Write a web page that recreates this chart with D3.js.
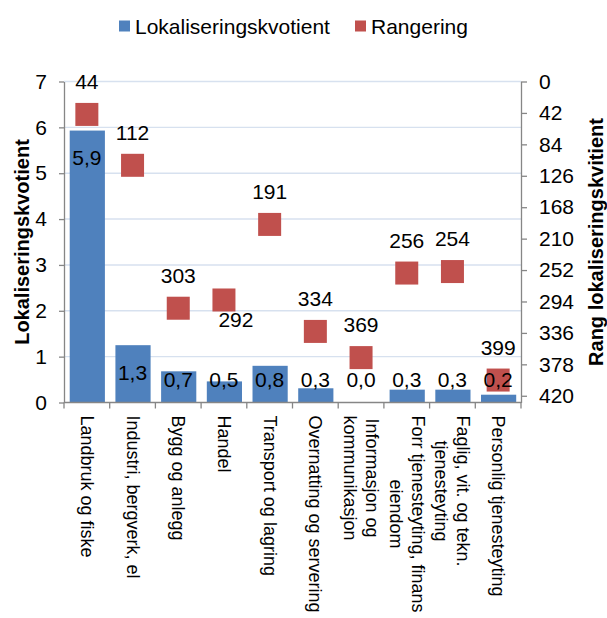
<!DOCTYPE html>
<html>
<head>
<meta charset="utf-8">
<script src="https://cdn.jsdelivr.net/npm/d3@7"></script>
<style>
  body { margin: 0; background: #fff; }
  text { font-family: "Liberation Sans", Arial, sans-serif; fill: #000; }
</style>
</head>
<body>
<svg width="607" height="618"></svg>
<script>
var categories = [
  "Landbruk og fiske",
  "Industri, bergverk, el",
  "Bygg og anlegg",
  "Handel",
  "Transport og lagring",
  "Overnatting og servering",
  "Informasjon og\nkommunikasjon",
  "Forr tjenesteyting, finans\neiendom",
  "Faglig, vit. og tekn.\ntjenesteyting",
  "Personlig tjenesteyting"
];
var kvotient = [5.93, 1.25, 0.68, 0.46, 0.80, 0.31, 0.0, 0.28, 0.28, 0.17];
var rangering = [44, 112, 303, 292, 191, 334, 369, 256, 254, 399];
var rangLabelSide = ["over", "over", "over", "under", "over", "over", "over", "over", "over", "over"];
var leftTicks = [0, 1, 2, 3, 4, 5, 6, 7];
var rightTicks = [0, 42, 84, 126, 168, 210, 252, 294, 336, 378, 420];
var seriesNames = ["Lokaliseringskvotient", "Rangering"];

var svg = d3.select("svg");
var blue = "#4F81BD", red = "#C0504D", axisGrey = "#868686", gridCol = "#D7E1EF";

var plot = { l: 64, r: 521, t: 81.5, b: 402.5 };

var x = d3.scaleBand().domain(categories).range([plot.l, plot.r]);
var y = d3.scaleLinear().domain([0, 7]).range([plot.b, plot.t]);
var yR = d3.scaleLinear().domain([0, 429]).range([plot.t, plot.b]);
var bw = x.bandwidth();

// gridlines
svg.append("g").selectAll("line")
  .data(leftTicks.filter(function (d) { return d > 0; }))
  .enter().append("line")
  .attr("x1", plot.l).attr("x2", plot.r)
  .attr("y1", function (d) { return y(d); })
  .attr("y2", function (d) { return y(d); })
  .attr("stroke", gridCol).attr("stroke-width", 1.4);

// bars
svg.append("g").selectAll("rect")
  .data(kvotient)
  .enter().append("rect")
  .attr("x", function (d, i) { return x(categories[i]) + bw * 0.125; })
  .attr("width", bw * 0.77)
  .attr("y", function (d) { return y(d); })
  .attr("height", function (d) { return y(0) - y(d); })
  .attr("fill", blue);

// left axis
var gl = svg.append("g")
  .attr("transform", "translate(" + plot.l + ",0)")
  .call(d3.axisLeft(y).tickValues(leftTicks).tickFormat(d3.format("d"))
    .tickSize(5).tickSizeOuter(0).tickPadding(12));

// right axis
var gr = svg.append("g")
  .attr("transform", "translate(" + plot.r + ",0)")
  .call(d3.axisRight(yR).tickValues(rightTicks).tickFormat(d3.format("d"))
    .tickSize(6).tickSizeOuter(0).tickPadding(12));

[gl, gr].forEach(function (g) {
  g.select(".domain").attr("stroke", axisGrey).attr("stroke-width", 1.3);
  g.selectAll(".tick line").attr("stroke", axisGrey).attr("stroke-width", 1.3);
  g.selectAll(".tick text").style("font-size", "21px").attr("fill", "#000");
});

// x axis
var gx = svg.append("g");
gx.append("line")
  .attr("x1", plot.l).attr("x2", plot.r)
  .attr("y1", plot.b).attr("y2", plot.b)
  .attr("stroke", axisGrey).attr("stroke-width", 1.3);
gx.selectAll(".xt")
  .data(categories.map(function (c) { return x(c); }).concat([plot.r]))
  .enter().append("line")
  .attr("class", "xt")
  .attr("x1", function (d) { return d; }).attr("x2", function (d) { return d; })
  .attr("y1", plot.b).attr("y2", plot.b + 6)
  .attr("stroke", axisGrey).attr("stroke-width", 1.3);

// category labels, rotated
categories.forEach(function (c) {
  var lines = c.split("\n");
  var g = svg.append("g")
    .attr("transform", "translate(" + (x(c) + bw / 2) + "," + (plot.b + 13) + ") rotate(90)");
  var texts = lines.map(function (ln, j) {
    return g.append("text")
      .attr("y", (j - (lines.length - 1) / 2) * 22)
      .attr("dominant-baseline", "central")
      .attr("text-anchor", "middle")
      .style("font-size", "18px")
      .text(ln);
  });
  var w = d3.max(texts, function (t) { return t.node().getComputedTextLength(); });
  texts.forEach(function (t) { t.attr("x", w / 2); });
});

// rank markers
var ms = 23;
svg.append("g").selectAll("rect")
  .data(rangering)
  .enter().append("rect")
  .attr("x", function (d, i) { return x(categories[i]) + bw / 2 - ms / 2; })
  .attr("y", function (d) { return yR(d) - ms / 2; })
  .attr("width", ms).attr("height", ms)
  .attr("fill", red);

// rank labels
svg.append("g").selectAll("text")
  .data(rangering)
  .enter().append("text")
  .attr("x", function (d, i) { return x(categories[i]) + bw / 2 + (rangLabelSide[i] === "under" ? 12 : 0); })
  .attr("y", function (d, i) { return yR(d) + (rangLabelSide[i] === "under" ? 20 : -33); })
  .attr("text-anchor", "middle")
  .attr("dominant-baseline", "central")
  .style("font-size", "21px")
  .text(function (d) { return d; });

// bar labels
svg.append("g").selectAll("text")
  .data(kvotient)
  .enter().append("text")
  .attr("x", function (d, i) { return x(categories[i]) + bw / 2; })
  .attr("y", function (d) { return Math.min(y(d) + 27, y(0) - 23); })
  .attr("text-anchor", "middle")
  .attr("dominant-baseline", "central")
  .style("font-size", "21px")
  .text(function (d) { return d3.format(".1f")(d).replace(".", ","); });

// axis titles
svg.append("text")
  .attr("transform", "translate(22," + ((plot.t + plot.b) / 2) + ") rotate(-90)")
  .attr("text-anchor", "middle")
  .attr("dominant-baseline", "central")
  .style("font-size", "20px").style("font-weight", "bold")
  .text("Lokaliseringskvotient");
svg.append("text")
  .attr("transform", "translate(596," + ((plot.t + plot.b) / 2) + ") rotate(-90)")
  .attr("text-anchor", "middle")
  .attr("dominant-baseline", "central")
  .style("font-size", "20px").style("font-weight", "bold")
  .text("Rang lokaliseringskvitient");

// legend
var legendX = [119, 355];
var legendCol = [blue, red];
seriesNames.forEach(function (s, i) {
  svg.append("rect")
    .attr("x", legendX[i]).attr("y", 20.5)
    .attr("width", 11).attr("height", 11)
    .attr("fill", legendCol[i]);
  svg.append("text")
    .attr("x", legendX[i] + 16).attr("y", 26)
    .attr("dominant-baseline", "central")
    .style("font-size", "21px")
    .text(s);
});
</script>
</body>
</html>
